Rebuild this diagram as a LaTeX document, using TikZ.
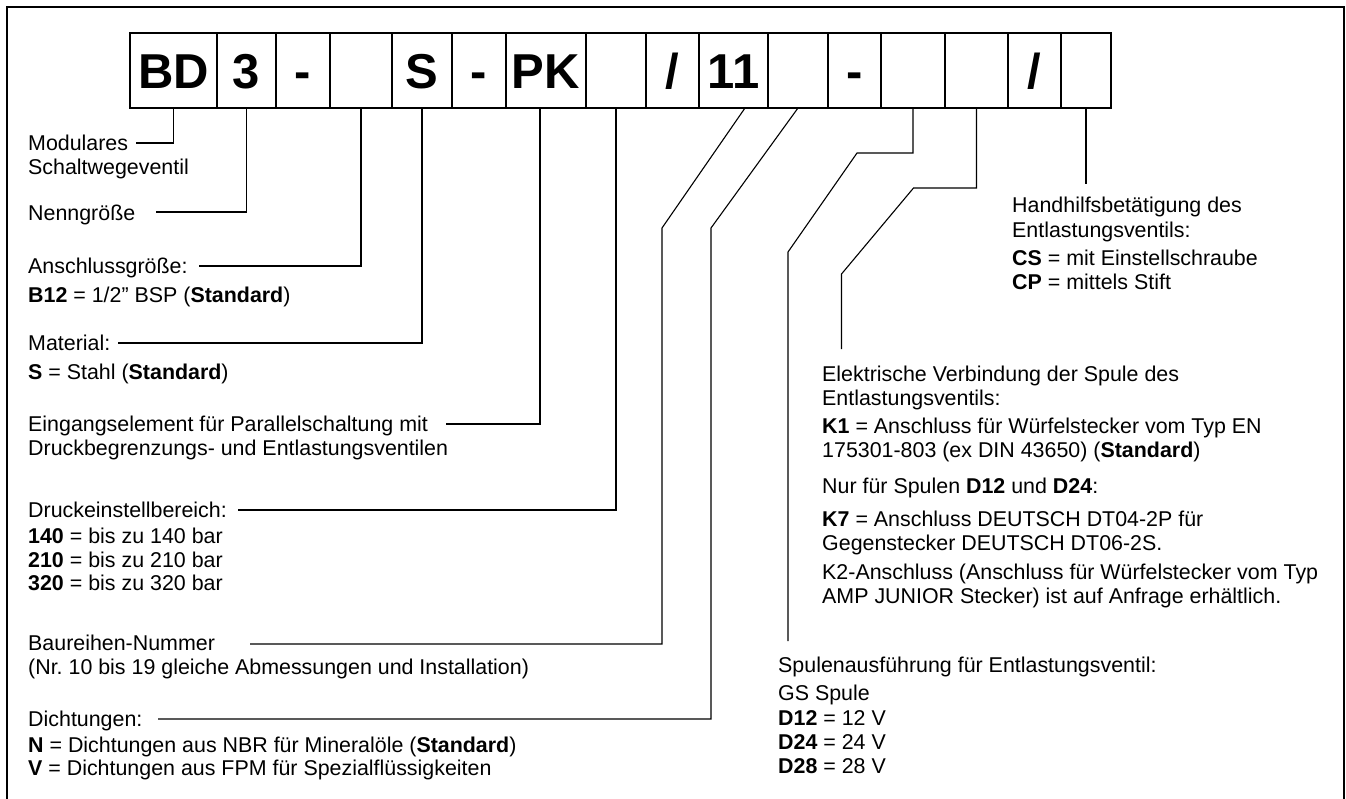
\documentclass[tikz,border=0pt]{standalone}
\usepackage{fontspec}
\setmainfont{Liberation Sans}
\usepackage{tikz}
\usetikzlibrary{positioning}
\frenchspacing

\begin{document}
\begin{tikzpicture}[
  x=1pt, y=-1pt,
  every node/.style={font=\fontsize{21.4}{24}\selectfont},
  cell/.style={draw,line width=1.2pt,minimum height=75pt,inner sep=0pt,outer sep=0pt,
               text height=35pt,text depth=0pt,font=\fontsize{49}{49}\selectfont\bfseries},
  lbl/.style={anchor=base west,inner sep=0pt},
  conn/.style={draw,line width=1.1pt},
]
  \useasboundingbox (0,0) rectangle (1346,798);
  % Frame
  \draw[line width=1.5pt] (7,820) -- (7,7) -- (1344,7) -- (1344,820);

  % Code boxes
  \foreach \xa/\xb/\lab [count=\i] in {130/217/BD, 217/276/3, 276/330/-, 330/392/{},
      392/452/S, 452/506/-, 506/586/PK, 586/646/{}, 646/699/{/}, 699/768/11,
      768/828/{}, 828/881/-, 881/945/{}, 945/1008/{}, 1008/1061/{/}, 1061/1111/{}}{
    \pgfmathsetmacro\cx{(\xa+\xb)/2}
    \pgfmathsetmacro\cw{\xb-\xa}
    \node[cell,minimum width=\cw pt] (b\i) at (\cx,70.5) {\lab};
  }

  % Left labels
  \node[lbl] (mod) at (28,150.5) {Modulares};
  \node[lbl] (mod-2) at (28,174) {Schaltwegeventil};
  \node[lbl] (nenn) at (28,220) {Nenngröße};
  \node[lbl] (ansch) at (28,273.5) {Anschlussgröße:};
  \node[lbl] (ansch-2) at (28,302.5) {\textbf{B12} = 1/2” BSP (\textbf{Standard})};
  \node[lbl] (mat) at (28,350.5) {Material:};
  \node[lbl] (mat-2) at (28,379.5) {\textbf{S} = Stahl (\textbf{Standard})};
  \node[lbl] (eing) at (28,431.5) {Eingangselement für Parallelschaltung mit};
  \node[lbl] (eing-2) at (28,455) {Druckbegrenzungs- und Entlastungsventilen};
  \node[lbl] (druck) at (28,517.5) {Druckeinstellbereich:};
  \node[lbl] (druck-1) at (28,543.5) {\textbf{140} = bis zu 140 bar};
  \node[lbl] (druck-2) at (28,567.5) {\textbf{210} = bis zu 210 bar};
  \node[lbl] (druck-3) at (28,590.5) {\textbf{320} = bis zu 320 bar};
  \node[lbl] (baur) at (28,650) {Baureihen-Nummer};
  \node[lbl] (baur-2) at (28,674.5) {(Nr. 10 bis 19 gleiche Abmessungen und Installation)};
  \node[lbl] (dicht) at (28,726.5) {Dichtungen:};
  \node[lbl] (dicht-1) at (28,752.5) {\textbf{N} = Dichtungen aus NBR für Mineralöle (\textbf{Standard})};
  \node[lbl] (dicht-2) at (28,775.5) {\textbf{V} = Dichtungen aus FPM für Spezialflüssigkeiten};

  % Right labels
  \node[lbl] (hand) at (1012,212.5) {Handhilfsbetätigung des};
  \node[lbl] (hand-2) at (1012,237.5) {Entlastungsventils:};
  \node[lbl] (hand-3) at (1012,265.5) {\textbf{CS} = mit Einstellschraube};
  \node[lbl] (hand-4) at (1012,289.5) {\textbf{CP} = mittels Stift};
  \node[lbl] (elek) at (822,381.5) {Elektrische Verbindung der Spule des};
  \node[lbl] (elek-2) at (822,405.5) {Entlastungsventils:};
  \node[lbl] (elek-3) at (822,433.5) {\textbf{K1} = Anschluss für Würfelstecker vom Typ EN};
  \node[lbl] (elek-4) at (822,457.5) {175301-803 (ex DIN 43650) (\textbf{Standard})};
  \node[lbl] (elek-5) at (822,493.5) {Nur für Spulen \textbf{D12} und \textbf{D24}:};
  \node[lbl] (elek-6) at (822,526.5) {\textbf{K7} = Anschluss DEUTSCH DT04-2P für};
  \node[lbl] (elek-7) at (822,550.5) {Gegenstecker DEUTSCH DT06-2S.};
  \node[lbl] (elek-8) at (822,579.5) {K2-Anschluss (Anschluss für Würfelstecker vom Typ};
  \node[lbl] (elek-9) at (822,603.5) {AMP JUNIOR Stecker) ist auf Anfrage erhältlich.};
  \node[lbl] (spule) at (778,672.5) {Spulenausführung für Entlastungsventil:};
  \node[lbl] (spule-2) at (778,700.5) {GS Spule};
  \node[lbl] (spule-3) at (778,725.5) {\textbf{D12} = 12 V};
  \node[lbl] (spule-4) at (778,749.5) {\textbf{D24} = 24 V};
  \node[lbl] (spule-5) at (778,773.5) {\textbf{D28} = 28 V};

  % Line ends
  \coordinate (c-mod) at (136,143);
  \coordinate (c-nenn) at (156,212);
  \coordinate (c-ansch) at (199,266);
  \coordinate (c-mat) at (118,343);
  \coordinate (c-eing) at (446,424);
  \coordinate (c-druck) at (238,510);
  \coordinate (c-baur) at (250,644);
  \coordinate (c-dicht) at (158,719);
  \coordinate (c-spule) at (788,641);
  \coordinate (c-elek) at (841.5,349);
  \coordinate (c-hand) at (1086,184);

  % Connectors
  \draw[conn] (b1.south) |- (c-mod);
  \draw[conn] (b2.south) |- (c-nenn);
  \draw[conn] (b4.south) |- (c-ansch);
  \draw[conn] (b5.south) |- (c-mat);
  \draw[conn] ([xshift=-6pt]b7.south) |- (c-eing);
  \draw[conn] (b8.south) |- (c-druck);
  \draw[conn] ([xshift=11.5pt]b10.south) -- ++(-83,120) |- (c-baur);
  \draw[conn] (b11.south) -- ++(-87,120) |- (c-dicht);
  \draw[conn] (b13.south) -- ++(0,45) -- ++(-56,0) -- ++(-69,99) -- (c-spule);
  \draw[conn] (b14.south) -- ++(0,80) -- ++(-63,0) -- ++(-72,86) -- (c-elek);
  \draw[conn] (b16.south) -- (c-hand);
\end{tikzpicture}
\end{document}
